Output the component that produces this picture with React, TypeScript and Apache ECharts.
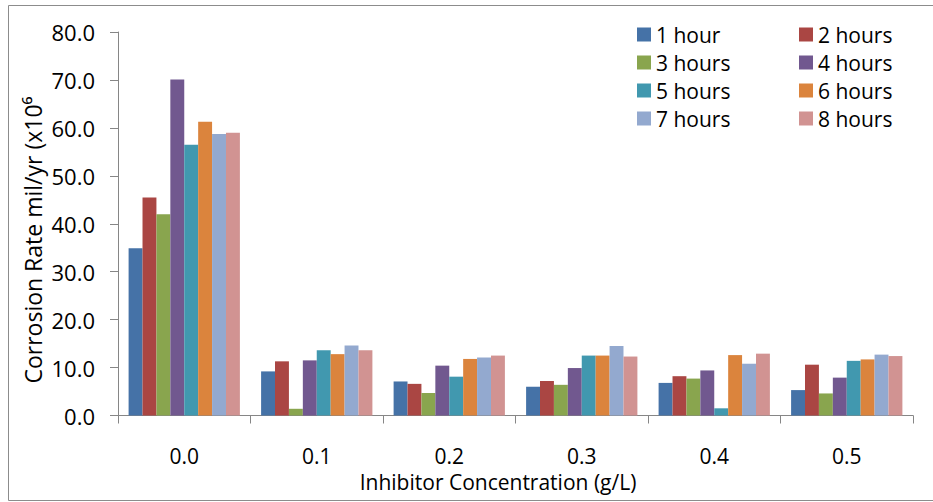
import React, { useEffect, useRef } from "react";
import * as echarts from "echarts";

const categories = ["0.0", "0.1", "0.2", "0.3", "0.4", "0.5"];
const seriesNames = ["1 hour", "2 hours", "3 hours", "4 hours", "5 hours", "6 hours", "7 hours", "8 hours"];
const h1 = [34.9, 9.2, 7.1, 6.0, 6.8, 5.3];
const h2 = [45.5, 11.3, 6.6, 7.2, 8.2, 10.6];
const h3 = [42.0, 1.4, 4.7, 6.4, 7.7, 4.6];
const h4 = [70.1, 11.5, 10.4, 9.9, 9.4, 7.9];
const h5 = [56.5, 13.6, 8.1, 12.5, 1.5, 11.4];
const h6 = [61.3, 12.8, 11.8, 12.5, 12.6, 11.7];
const h7 = [58.7, 14.6, 12.1, 14.5, 10.8, 12.7];
const h8 = [59.0, 13.6, 12.5, 12.3, 12.9, 12.4];
const seriesValues = [h1, h2, h3, h4, h5, h6, h7, h8];
const colors = ["#4572A7", "#AA4643", "#89A54E", "#71588F", "#4198AF", "#DB843D", "#93A9CF", "#D19392"];

const FONT = "'Open Sans', sans-serif";

export default function App() {
  const ref = useRef<HTMLDivElement>(null);
  useEffect(() => {
    if (!ref.current) return;
    const chart = echarts.init(ref.current, null, { renderer: "svg" });
    const legendText = { fontFamily: FONT, fontSize: 21, color: "#000" };
    const legendBase = {
      orient: "vertical",
      top: 24,
      padding: 0,
      itemWidth: 14,
      itemHeight: 14,
      itemGap: 7,
      icon: "rect",
      textStyle: legendText,
    };
    chart.setOption({
      animation: false,
      color: colors,
      textStyle: { fontFamily: FONT },
      grid: { left: 118, right: 20, top: 32, bottom: 86.5, containLabel: false },
      legend: [
        { ...legendBase, left: 637, data: [seriesNames[0], seriesNames[2], seriesNames[4], seriesNames[6]] },
        { ...legendBase, left: 799, data: [seriesNames[1], seriesNames[3], seriesNames[5], seriesNames[7]] },
      ],
      xAxis: {
        type: "category",
        data: categories,
        axisLine: { lineStyle: { color: "#868686", width: 1 } },
        axisTick: { show: true, length: 8, lineStyle: { color: "#868686" } },
        axisLabel: { fontFamily: FONT, fontSize: 21, color: "#000", margin: 30 },
      },
      yAxis: {
        type: "value",
        min: 0,
        max: 80,
        interval: 10,
        splitLine: { show: false },
        axisLine: { show: true, lineStyle: { color: "#868686", width: 1 } },
        axisTick: { show: true, length: 8, lineStyle: { color: "#868686" } },
        axisLabel: {
          fontFamily: FONT,
          fontSize: 22,
          color: "#000",
          margin: 23,
          formatter: (v: number) => v.toFixed(1),
        },
      },
      graphic: [
        {
          type: "rect",
          shape: { x: 8.5, y: 5.5, width: 960, height: 495 },
          style: { fill: "none", stroke: "#8c8c8c", lineWidth: 1 },
          silent: true,
        },
        {
          type: "text",
          x: 498,
          y: 482,
          style: {
            text: "Inhibitor Concentration (g/L)",
            fontFamily: FONT,
            fontSize: 21,
            fill: "#000",
            align: "center",
            verticalAlign: "middle",
          },
        },
        {
          type: "text",
          x: 33,
          y: 240,
          rotation: Math.PI / 2,
          style: {
            text: "Corrosion Rate mil/yr (x10⁶",
            fontFamily: FONT,
            fontSize: 23,
            fill: "#000",
            align: "center",
            verticalAlign: "middle",
          },
        },
      ],
      series: seriesNames.map((name, i) => ({
        name,
        type: "bar",
        data: seriesValues[i],
        barGap: "0%",
        barCategoryGap: "16%",
        itemStyle: { color: colors[i] },
      })),
    });
    return () => chart.dispose();
  }, []);
  return (
    <div
      ref={ref}
      style={{ position: "fixed", left: 0, top: 0, width: 933, height: 502, background: "#fff" }}
    />
  );
}
